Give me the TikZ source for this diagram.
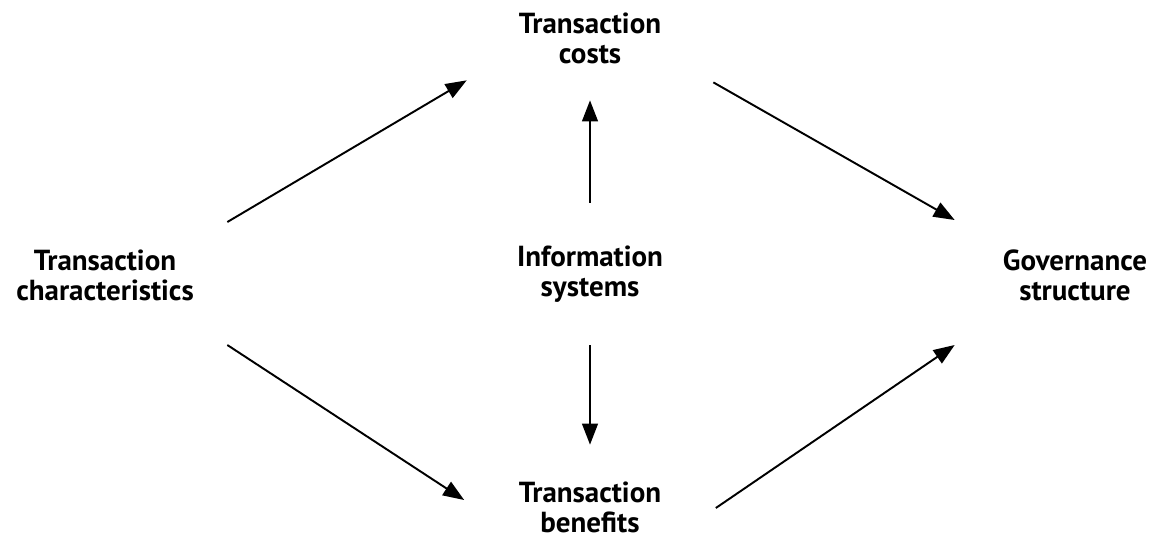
\documentclass[tikz,border=0pt]{standalone}
\usepackage{fontspec}
\setmainfont{PT Sans}
\usetikzlibrary{arrows.meta}
\begin{document}
\begin{tikzpicture}[x=0.02cm,y=-0.02cm,
        box/.style={inner sep=0pt,align=center,font=\bfseries\fontsize{16.5}{17}\selectfont},
        arr/.style={line width=1.1pt,-{Triangle[length=12pt,width=9pt]}}]
        \useasboundingbox (0,0) rectangle (1158,539);
        %% Nodes
        \node[box,minimum width=4.88cm] (TC) at (105,275) {Transaction\\characteristics};
        \node[box,minimum width=4.92cm,minimum height=2.48cm] (COST) at (590,38) {Transaction\\costs};
        \node[box,minimum height=2.84cm] (IS) at (590,274) {Information\\systems};
        \node[box,minimum width=5.02cm,minimum height=2.48cm] (BEN) at (590,507) {Transaction\\benefits};
        \node[box,minimum width=4.8cm] (GOV) at (1075,275) {Governance\\structure};
        %% Arrows
        \draw[arr] ([yshift=1.06cm]TC.east) -- ([yshift=0.4cm]COST.south west);
        \draw[arr] ([yshift=-1.4cm]TC.east) -- ([yshift=0.14cm]BEN.west);
        \draw[arr] ([yshift=0.36cm]COST.south east) -- ([yshift=1.1cm]GOV.west);
        \draw[arr] ([yshift=-0.02cm]BEN.east) -- ([yshift=-1.4cm]GOV.west);
        \draw[arr] (IS.north) -- (COST.south);
        \draw[arr] (IS.south) -- (BEN.north);
    \end{tikzpicture}
\end{document}
